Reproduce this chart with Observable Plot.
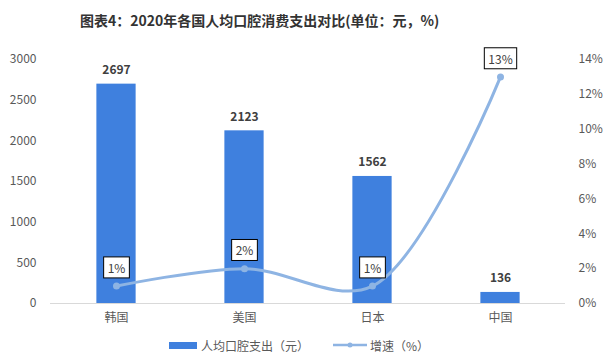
<!DOCTYPE html>
<html><head><meta charset="utf-8">
<script src="https://cdn.jsdelivr.net/npm/d3@7"></script>
<script src="https://cdn.jsdelivr.net/npm/@observablehq/plot@0.6"></script>
<style>
body{margin:0;background:#fff;font-family:"Noto Sans CJK SC","Noto Sans",sans-serif;}
#title{height:40px;line-height:40px;text-align:left;padding-left:80px;font-size:14px;font-weight:bold;color:#333;}
#legend{display:flex;justify-content:center;align-items:center;font-size:12px;color:#595959;height:30px;margin-left:-8px}
.li{display:flex;align-items:center;margin:0 12px}
</style></head><body>
<div id="title">图表4：2020年各国人均口腔消费支出对比(单位：元，%)</div>
<div id="chart"></div>
<div id="legend">
 <div class="li"><span style="display:inline-block;width:28px;height:7px;background:#3f80de;margin-right:4px"></span>人均口腔支出（元）</div>
 <div class="li"><svg width="34" height="10" style="margin-right:3px"><line x1="0" y1="5" x2="34" y2="5" stroke="#8eb4e3" stroke-width="2.5"/><circle cx="17" cy="5" r="2.5" fill="#8eb4e3"/></svg>增速（%）</div>
</div>
<script>
const countries = ["韩国","美国","日本","中国"];
const spending = [2697, 2123, 1562, 136];
const growth = [1, 2, 1, 13];
const leftTicks = [0,500,1000,1500,2000,2500,3000];
const rightTicks = [0,2,4,6,8,10,12,14];

const k = 3000/14;
const data = countries.map((c,i)=>({c, v: spending[i], g: growth[i], gy: growth[i]*k}));
const W = 606, H = 290;
const bw = (W-50-41)/4;
const plot = Plot.plot({
  width: W, height: H,
  marginLeft: 50, marginRight: 41, marginTop: 19, marginBottom: 27,
  style: {fontFamily: '"Noto Sans CJK SC","Noto Sans",sans-serif', fontSize: "12px", color: "#595959", background: "#fff"},
  x: {domain: countries, padding: 0, label: null},
  y: {domain: [0, 3000], label: null},
  marks: [
    Plot.barY(data, {x: "c", y: "v", fill: "#3f80de", insetLeft: (bw-40)/2, insetRight: (bw-40)/2}),
    Plot.ruleY([0], {stroke: "#d9d9d9", strokeWidth: 1}),
    Plot.axisY({ticks: leftTicks, tickFormat: d3.format("d"), tickSize: 0, tickPadding: 14, label: null, fontSize: 12, fill: "#595959"}),
    Plot.axisY({anchor: "right", ticks: rightTicks.map(d=>d*k), tickFormat: d=>Math.round(d/k)+"%", tickSize: 0, tickPadding: 13, label: null, fontSize: 12, fill: "#595959", textAnchor: "start"}),
    Plot.axisX({tickSize: 0, tickPadding: 10, label: null, fontSize: 12, fill: "#595959"}),
    Plot.text(data, {x: "c", y: "v", text: d=>String(d.v), dy: -14, fontSize: 12, fontWeight: "bold", fill: "#404040"}),
    Plot.line(data, {x: "c", y: "gy", stroke: "#8eb4e3", strokeWidth: 3, curve: "catmull-rom"}),
    Plot.dot(data, {x: "c", y: "gy", r: 3.5, fill: "#8eb4e3"}),
    Plot.text(data, {x: "c", y: "gy", text: d=>d.g+"%", dy: -17, fontSize: 12, fill: "#404040", className: "boxlab"})
  ]
});
document.getElementById("chart").appendChild(plot);
// draw boxes behind growth labels
d3.select(plot).selectAll("g.boxlab text").each(function(){
  const b = this.getBBox();
  const g = this.parentNode;
  const padX = 4, h = 21;
  const cy = b.y + b.height/2;
  const r = document.createElementNS("http://www.w3.org/2000/svg","rect");
  const tr = this.getAttribute("transform");
  if (tr) r.setAttribute("transform", tr);
  r.setAttribute("x", b.x - padX); r.setAttribute("y", cy - h/2);
  r.setAttribute("width", b.width + 2*padX); r.setAttribute("height", h);
  r.setAttribute("fill", "#fff"); r.setAttribute("stroke", "#000"); r.setAttribute("stroke-width", "1");
  g.insertBefore(r, this);
});
</script>
</body></html>
